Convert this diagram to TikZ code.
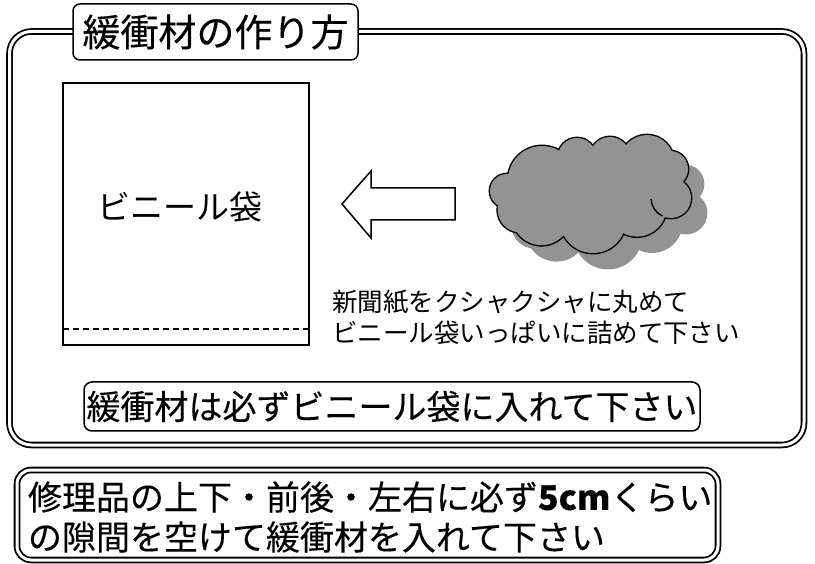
\documentclass[tikz,border=0pt]{standalone}
\usepackage{fontspec}
\setmainfont{Noto Sans CJK JP}
\newfontfamily\heavyjp{Noto Sans CJK JP}[FakeBold=0.25]
\definecolor{cloudgray}{RGB}{147,147,147}
\tikzset{
  frameline/.style={draw=black, line width=1.8pt, double=white, double distance=3pt},
  plain/.style={draw=black, line width=1.5pt},
  txt/.style={inner sep=0pt, outer sep=0pt},
  lobes/.style={insert path={
    (542,-180) circle[radius=34]
    (577,-157) circle[radius=19]
    (610,-157) circle[radius=20]
    (647,-162) circle[radius=27]
    (670,-169) circle[radius=18]
    (671,-198) circle[radius=20]
    (637,-207) circle[radius=29.6]
    (593,-220) circle[radius=33]
    (541.5,-215.5) circle[radius=29.7]
    (520,-210) circle[radius=22.3]
    (507,-191) circle[radius=17]}},
  fillers/.style={insert path={
    (560,-195) circle[radius=35]
    (620,-195) circle[radius=35]
    (590,-210) circle[radius=35]
    (593,-178) circle[radius=25]}}
}
\begin{document}
\begin{tikzpicture}[x=1pt,y=1pt]
\useasboundingbox (0,0) rectangle (815,-564);
\fill[white] (0,0) rectangle (815,-564);
% outer frame
\draw[frameline, rounded corners=22pt] (9.5,-31.5) rectangle (804,-445);
% title
\node[plain, fill=white, rounded corners=7pt, minimum width=285pt, minimum height=56pt, inner sep=0pt] (title) at (215.5,-32) {\heavyjp\fontsize{38}{40}\selectfont 緩衝材の作り方};
% bag
\node[plain, minimum width=246pt, minimum height=262pt, inner sep=0pt] (bag) at (186,-214) {};
\node[txt] (baglabel) at (180,-207) {\fontsize{33}{35}\selectfont ビニール袋};
\coordinate (dl) at (63,-329);
\coordinate (dr) at (309,-329);
\draw[line width=1.3pt, dash pattern=on 6pt off 4pt] (dl) -- (dr);
% block arrow
\draw[plain, fill=white, line join=miter] (342,-204) -- (371,-171) -- (371,-188) -- (455,-188) -- (455,-220) -- (371,-220) -- (371,-238) -- cycle;
% cloud shadow
\fill[cloudgray, shift={(15,-15)}, lobes];
\draw[cloudgray, line width=2.8pt, shift={(15,-15)}, lobes];
% cloud
\draw[black, line width=2.8pt, lobes];
\fill[cloudgray, lobes];
\fill[cloudgray, fillers];
\draw[black, line width=1.4pt] (671,-198) ++(183:20) arc[start angle=183, end angle=245, radius=20];
% instructions
\node[txt, anchor=west] (inst1) at (332,-302) {\fontsize{25.5}{27}\selectfont 新聞紙をクシャクシャに丸めて};
\node[txt, anchor=west] (inst2) at (332,-333) {\fontsize{25.5}{27}\selectfont ビニール袋いっぱいに詰めて下さい};
% rule box
\node[plain, rounded corners=8pt, minimum width=616pt, minimum height=49pt, inner sep=0pt] (rule) at (392,-406.5) {\heavyjp\fontsize{34}{36}\selectfont 緩衝材は必ずビニール袋に入れて下さい};
% note box
\node[frameline, rounded corners=14pt, minimum width=701pt, minimum height=90pt, inner sep=0pt] (note) at (367.5,-515) {};
\node[txt, anchor=west] (note1) at (28,-497) {\heavyjp\fontsize{34}{36}\selectfont 修理品の上下・前後・左右に必ず{\bfseries 5cm}くらい};
\node[txt, anchor=west] (note2) at (28,-537) {\heavyjp\fontsize{34}{36}\selectfont の隙間を空けて緩衝材を入れて下さい};
\end{tikzpicture}
\end{document}
